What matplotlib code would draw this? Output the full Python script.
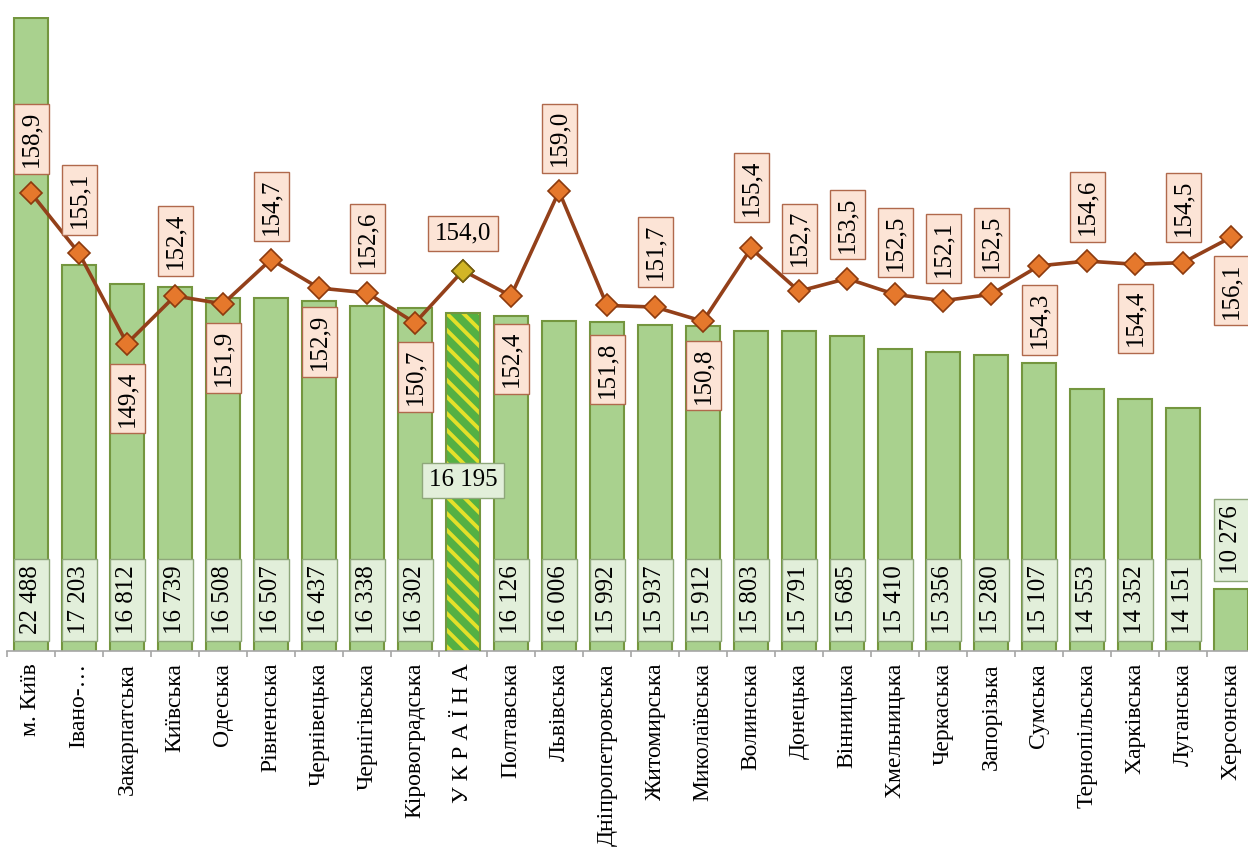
import matplotlib
matplotlib.use('Agg')
import matplotlib.pyplot as plt
import numpy as np

plt.rcParams['font.family'] = ['Liberation Serif', 'DejaVu Serif']
plt.rcParams['hatch.linewidth'] = 2.8

# ---- data ----
categories = ['м. Київ', 'Івано-…', 'Закарпатська', 'Київська', 'Одеська',
              'Рівненська', 'Чернівецька', 'Чернігівська', 'Кіровоградська',
              'У К Р А Ї Н А', 'Полтавська', 'Львівська', 'Дніпропетровська',
              'Житомирська', 'Миколаївська', 'Волинська', 'Донецька', 'Вінницька',
              'Хмельницька', 'Черкаська', 'Запорізька', 'Сумська', 'Тернопільська',
              'Харківська', 'Луганська', 'Херсонська']
wages = [22488, 17203, 16812, 16739, 16508, 16507, 16437, 16338, 16302, 16195,
         16126, 16006, 15992, 15937, 15912, 15803, 15791, 15685, 15410, 15356,
         15280, 15107, 14553, 14352, 14151, 10276]
index_values = [158.9, 155.1, 149.4, 152.4, 151.9, 154.7, 152.9, 152.6, 150.7, 154.0,
                152.4, 159.0, 151.8, 151.7, 150.8, 155.4, 152.7, 153.5, 152.5, 152.1,
                152.5, 154.3, 154.6, 154.4, 154.5, 156.1]
highlight = 'У К Р А Ї Н А'

# ---- label placement (pixels from marker; + above, - below) ----
line_label_offsets_px = [54, 53, -55, 55, -54, 53, -54, 54, -54, 37,
                         -63, 53, -64, 55, -54, 61, 53, 54, 52, 52,
                         52, -54, 54, -54, 55, -53]

W, H = 1248, 848
PX = 72.0 / 100.0  # points per pixel

fig = plt.figure(figsize=(W / 100, H / 100), dpi=100)
left_px, right_px, top_px, bottom_px = 7, 1255, 17, 651
ax = fig.add_axes([left_px / W, (H - bottom_px) / H,
                   (right_px - left_px) / W, (bottom_px - top_px) / H])

n = len(categories)
x = np.arange(n)
hi = categories.index(highlight)

bar_face = '#a9d18e'
bar_edge = '#74963f'
bw = 0.71

bars = ax.bar(x, wages, width=bw, color=bar_face, edgecolor=bar_edge, linewidth=1.5, zorder=2)
bars[hi].set_visible(False)
# highlighted (hatched) bar
ax.bar(x[hi], wages[hi], width=bw, color='#55b043', edgecolor='#e4e02a',
       linewidth=0, hatch='\\\\', zorder=2)
ax.bar(x[hi], wages[hi], width=bw, fill=False, edgecolor=bar_edge, linewidth=1.5, zorder=3)

ax.set_xlim(-0.5, n - 0.5)
ax.set_ylim(8950, 22520)

for s in ['left', 'right', 'top']:
    ax.spines[s].set_visible(False)
ax.spines['bottom'].set_color('#a6a6a6')
ax.spines['bottom'].set_linewidth(1.2)
ax.set_yticks([])
ax.set_xticks(x)
ax.set_xticklabels(categories, rotation=90, fontsize=17, va='top', ha='center')
ax.tick_params(axis='x', which='major', length=0, pad=12 * PX)
ax.set_xticks(np.arange(-0.5, n), minor=True)
ax.tick_params(axis='x', which='minor', length=6 * PX, color='#a6a6a6', width=1.2)

FS = 18
bar_box = dict(boxstyle='square,pad=0.26', fc='#e2efda', ec='#8ea77a', lw=1)
for i, v in enumerate(wages):
    txt = f'{v:,}'.replace(',', ' ')
    if i == hi:
        ax.annotate(txt, xy=(i, 8950), xytext=(0, 171 * PX), textcoords='offset points',
                    ha='center', va='center', fontsize=FS, bbox=bar_box, zorder=5)
    elif i == n - 1:
        ax.annotate(txt, xy=(i, v), xytext=(0, 49 * PX), textcoords='offset points',
                    ha='center', va='center', rotation=90, fontsize=FS,
                    bbox=bar_box, zorder=5, annotation_clip=False)
    else:
        ax.annotate(txt, xy=(i, 8950), xytext=(0, 51 * PX), textcoords='offset points',
                    ha='center', va='center', rotation=90, fontsize=FS,
                    bbox=bar_box, zorder=5)

# ---- line on secondary axis ----
ax2 = ax.twinx()
ax2.set_ylim(130, 170)
ax2.set_xlim(-0.5, n - 0.5)
ax2.axis('off')

ax2.plot(x, index_values, color='#93401a', lw=2.6, zorder=3,
         marker='D', ms=11.5, mfc='#e5782c', mec='#8c3a0e', mew=1.2)
ax2.plot([x[hi]], [index_values[hi]], ls='none', marker='D', ms=11.5,
         mfc='#d2b526', mec='#6f5f0e', mew=1.2, zorder=4)

line_box = dict(boxstyle='square,pad=0.26', fc='#fce4d6', ec='#b0694c', lw=1)
for i, v in enumerate(index_values):
    txt = f'{v:.1f}'.replace('.', ',')
    off = line_label_offsets_px[i]
    rot = 0 if i == hi else 90
    ax2.annotate(txt, xy=(i, v), xytext=(0, off * PX), textcoords='offset points',
                 ha='center', va='center', rotation=rot, fontsize=FS,
                 bbox=line_box, zorder=6, annotation_clip=False)

fig.savefig('out.png', dpi=100, facecolor='white')
